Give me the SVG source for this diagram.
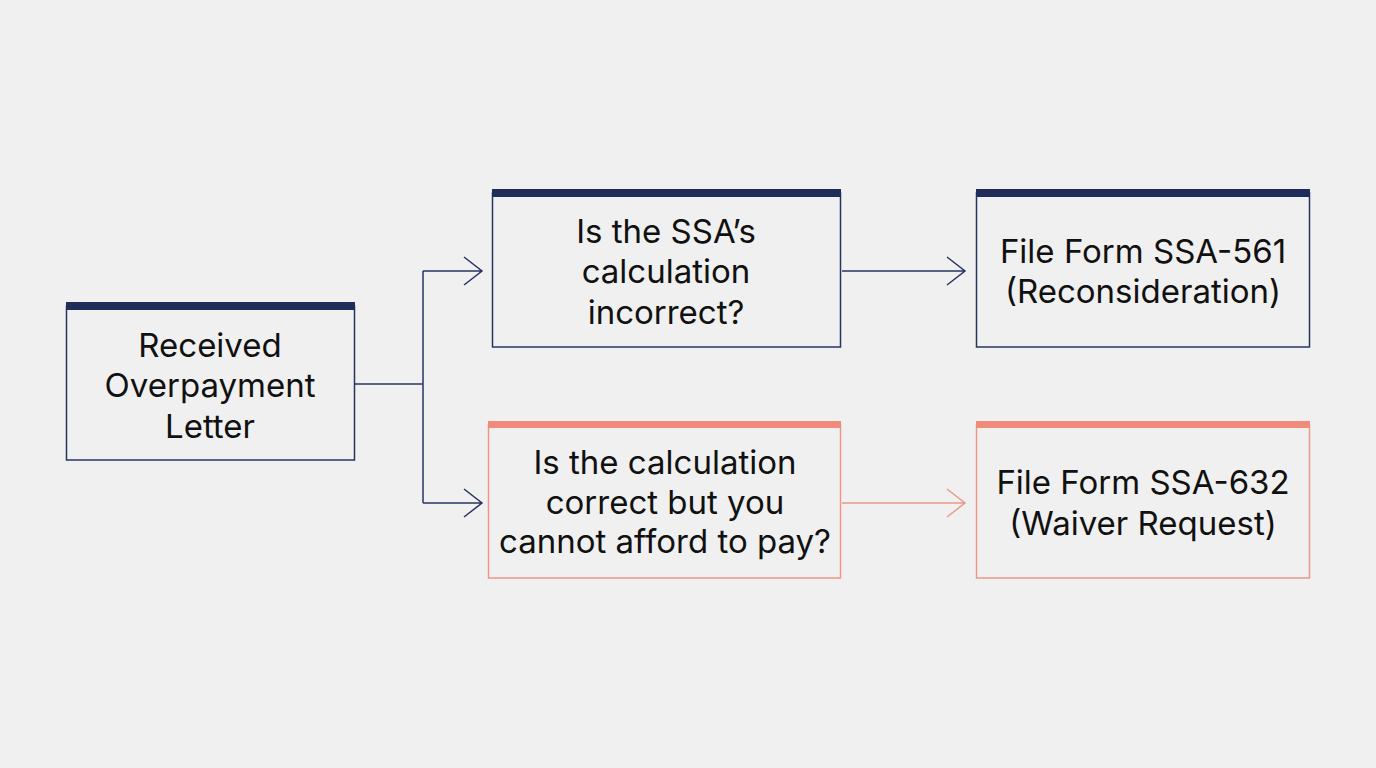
<svg xmlns="http://www.w3.org/2000/svg" width="1376" height="768" viewBox="0 0 1376 768">
<style>
.box{fill:#f0f0f0;stroke-width:1.5}
.navy{stroke:#27345f}
.coral{stroke:#ec9888}
.barN{fill:#1f2d5a}
.barC{fill:#f08b79}
.t{font-family:Inter,"Liberation Sans",Arial,sans-serif;font-size:33px;font-weight:400;fill:#111;text-anchor:middle}
.ln{fill:none;stroke-width:1.5}
</style>
<rect width="1376" height="768" fill="#f0f0f0"/>
<g id="connectors">
<path class="ln navy" d="M355 384 H423 M423 271 V503 M423 271 H481 M423 503 H481 M464 257 L482 271 L464 285 M464 489 L482 503 L464 517"/>
<path class="ln navy" d="M842 271 H964 M947 257 L965 271 L947 285"/>
<path class="ln coral" d="M842 503 H964 M947 489 L965 503 L947 517"/>
</g>
<g id="n1">
<rect class="box navy" x="66.5" y="306" width="288" height="154"/>
<rect class="barN" x="66" y="302" width="289" height="8"/>
<text class="t" x="210" y="357">Received</text>
<text class="t" x="210" y="397">Overpayment</text>
<text class="t" x="210" y="438">Letter</text>
</g>
<g id="n2">
<rect class="box navy" x="492.5" y="193" width="348" height="154"/>
<rect class="barN" x="492" y="189" width="349" height="8"/>
<text class="t" x="666" y="243">Is the SSA’s</text>
<text class="t" x="666" y="283">calculation</text>
<text class="t" x="666" y="324">incorrect?</text>
</g>
<g id="n3">
<rect class="box coral" x="488.5" y="425" width="352" height="153"/>
<rect class="barC" x="488" y="421" width="353" height="7"/>
<text class="t" x="665" y="474">Is the calculation</text>
<text class="t" x="665" y="514">correct but you</text>
<text class="t" x="665" y="553">cannot afford to pay?</text>
</g>
<g id="n4">
<rect class="box navy" x="976.5" y="193" width="333" height="154"/>
<rect class="barN" x="976" y="189" width="334" height="8"/>
<text class="t" x="1143" y="263">File Form SSA-561</text>
<text class="t" x="1143" y="303">(Reconsideration)</text>
</g>
<g id="n5">
<rect class="box coral" x="976.5" y="425" width="333" height="153"/>
<rect class="barC" x="976" y="421" width="334" height="7"/>
<text class="t" x="1143" y="494">File Form SSA-632</text>
<text class="t" x="1143" y="535">(Waiver Request)</text>
</g>
</svg>
